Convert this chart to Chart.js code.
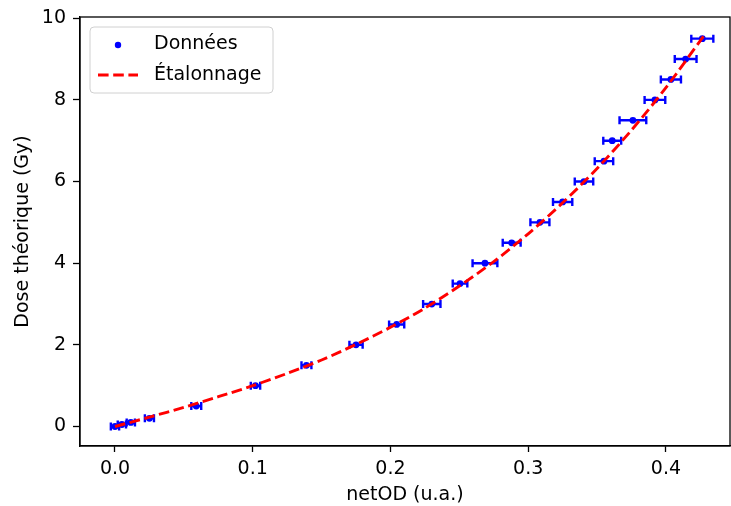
<!DOCTYPE html>
<html>
<head>
<meta charset="utf-8">
<script src="https://cdn.jsdelivr.net/npm/chart.js@4.4.0/dist/chart.umd.min.js"></script>
<style>
  body { margin: 0; background: #fff; }
</style>
</head>
<body>
<canvas id="calib" width="731" height="506"></canvas>
<script>
// measured points (dose vs netOD, with horizontal uncertainty)
const doses = [0, 0.05, 0.1, 0.2, 0.5, 1, 1.5, 2, 2.5, 3, 3.5, 4, 4.5, 5, 5.5, 6, 6.5, 7, 7.5, 8, 8.5, 9, 9.5];
const netOD = [0.0, 0.005, 0.0115, 0.025, 0.059, 0.102, 0.139, 0.175, 0.2045, 0.230, 0.2505, 0.2686, 0.288, 0.3085, 0.325, 0.3405, 0.355, 0.361, 0.376, 0.392, 0.4036, 0.4143, 0.4264];
const netODErr = [0.003, 0.003, 0.003, 0.0033, 0.0036, 0.0034, 0.0036, 0.0048, 0.0055, 0.0063, 0.0053, 0.009, 0.0065, 0.0069, 0.007, 0.0067, 0.0067, 0.0065, 0.0097, 0.0075, 0.0073, 0.0079, 0.008];

// calibration curve
const fitOD = [0, 0.025, 0.05, 0.075, 0.1, 0.125, 0.15, 0.175, 0.2, 0.225, 0.25, 0.275, 0.3, 0.325, 0.35, 0.375, 0.4, 0.4275];
const fitDose = [0, 0.23, 0.47, 0.73, 1.0, 1.3, 1.63, 2.01, 2.43, 2.9, 3.44, 4.04, 4.72, 5.48, 6.32, 7.26, 8.3, 9.57];

const xTicks = [0, 0.1, 0.2, 0.3, 0.4];
const yTicks = [0, 2, 4, 6, 8, 10];

Chart.defaults.font.family = "'DejaVu Sans', sans-serif";
Chart.defaults.font.size = 19;
Chart.defaults.color = "#000";

// the layout keeps a few px on the right, push the plot edge to the canvas border
const stretchRight = {
  id: "stretchRight",
  afterLayout(chart) {
    const x = chart.scales.x;
    chart.chartArea.right = 730;
    x.right = 730;
    x.width = x.right - x.left;
    x.configure();
  },
};

// horizontal error bars with caps, under the points
const errorBars = {
  id: "errorBars",
  beforeDatasetsDraw(chart) {
    const { ctx, scales: { x, y } } = chart;
    ctx.save();
    ctx.strokeStyle = "blue";
    ctx.lineWidth = 2.4;
    netOD.forEach((v, i) => {
      const py = y.getPixelForValue(doses[i]);
      const x0 = x.getPixelForValue(v - netODErr[i]);
      const x1 = x.getPixelForValue(v + netODErr[i]);
      ctx.beginPath();
      ctx.moveTo(x0, py);
      ctx.lineTo(x1, py);
      ctx.moveTo(x0, py - 4);
      ctx.lineTo(x0, py + 4);
      ctx.moveTo(x1, py - 4);
      ctx.lineTo(x1, py + 4);
      ctx.stroke();
    });
    ctx.restore();
  },
};

// full box around the plot + legend in the upper left corner
const frameAndLegend = {
  id: "frameAndLegend",
  afterDraw(chart) {
    const { ctx, chartArea: a } = chart;
    ctx.save();
    ctx.strokeStyle = "#000";
    ctx.lineWidth = 1.3;
    ctx.strokeRect(a.left, a.top, a.right - a.left, a.bottom - a.top);

    // legend box
    const bx = a.left + 10, by = a.top + 10, bw = 183, bh = 66;
    ctx.beginPath();
    ctx.roundRect(bx, by, bw, bh, 4);
    ctx.fillStyle = "rgba(255,255,255,0.8)";
    ctx.fill();
    ctx.strokeStyle = "#d0d0d0";
    ctx.lineWidth = 1;
    ctx.stroke();

    const ds = chart.data.datasets;
    ctx.font = "19px 'DejaVu Sans'";
    ctx.textBaseline = "middle";

    // scatter entry
    ctx.fillStyle = "blue";
    ctx.beginPath();
    ctx.arc(bx + 28, by + 18, 3.2, 0, Math.PI * 2);
    ctx.fill();
    ctx.fillStyle = "#000";
    ctx.fillText(ds[1].label, bx + 64, by + 17);

    // line entry
    ctx.strokeStyle = "red";
    ctx.lineWidth = 2.9;
    ctx.setLineDash([10.6, 4.6]);
    ctx.beginPath();
    ctx.moveTo(bx + 8, by + 48);
    ctx.lineTo(bx + 48, by + 48);
    ctx.stroke();
    ctx.setLineDash([]);
    ctx.fillText(ds[0].label, bx + 64, by + 48);
    ctx.restore();
  },
};

new Chart(document.getElementById("calib"), {
  type: "scatter",
  data: {
    datasets: [
      {
        label: "Étalonnage",
        data: fitOD.map((v, i) => ({ x: v, y: fitDose[i] })),
        showLine: true,
        borderColor: "red",
        borderWidth: 2.9,
        borderDash: [10.6, 4.6],
        pointRadius: 0,
        tension: 0.3,
        order: 0,
      },
      {
        label: "Données",
        data: netOD.map((v, i) => ({ x: v, y: doses[i] })),
        backgroundColor: "blue",
        borderWidth: 0,
        pointRadius: 3.4,
        order: 1,
      },
    ],
  },
  options: {
    responsive: false,
    animation: false,
    layout: { padding: { top: 17, right: 1, left: 0, bottom: 0 } },
    plugins: { legend: { display: false }, tooltip: { enabled: false } },
    scales: {
      x: {
        type: "linear",
        min: -0.0254,
        max: 0.4465,
        afterBuildTicks: (s) => { s.ticks = xTicks.map((v) => ({ value: v })); },
        afterFit: (s) => { s.height = 60; },
        ticks: { padding: 6, callback: (v) => v.toFixed(1) },
        grid: { drawOnChartArea: false, tickLength: 6, tickColor: "#000", tickWidth: 1.3 },
        border: { color: "#000", width: 1.3 },
        title: { display: true, text: "netOD (u.a.)", padding: { top: 0, bottom: 0 } },
      },
      y: {
        type: "linear",
        min: -0.477,
        max: 10.03,
        afterBuildTicks: (s) => { s.ticks = yTicks.map((v) => ({ value: v })); },
        afterFit: (s) => { s.width = 80; s.paddingTop = 0; s.paddingBottom = 0; },
        ticks: { padding: 7, callback: (v) => String(v) },
        grid: { drawOnChartArea: false, tickLength: 7, tickColor: "#000", tickWidth: 1.3 },
        border: { color: "#000", width: 1.3 },
        title: { display: true, text: "Dose théorique (Gy)", padding: { top: 12, bottom: 0 } },
      },
    },
  },
  plugins: [stretchRight, errorBars, frameAndLegend],
});
</script>
</body>
</html>
